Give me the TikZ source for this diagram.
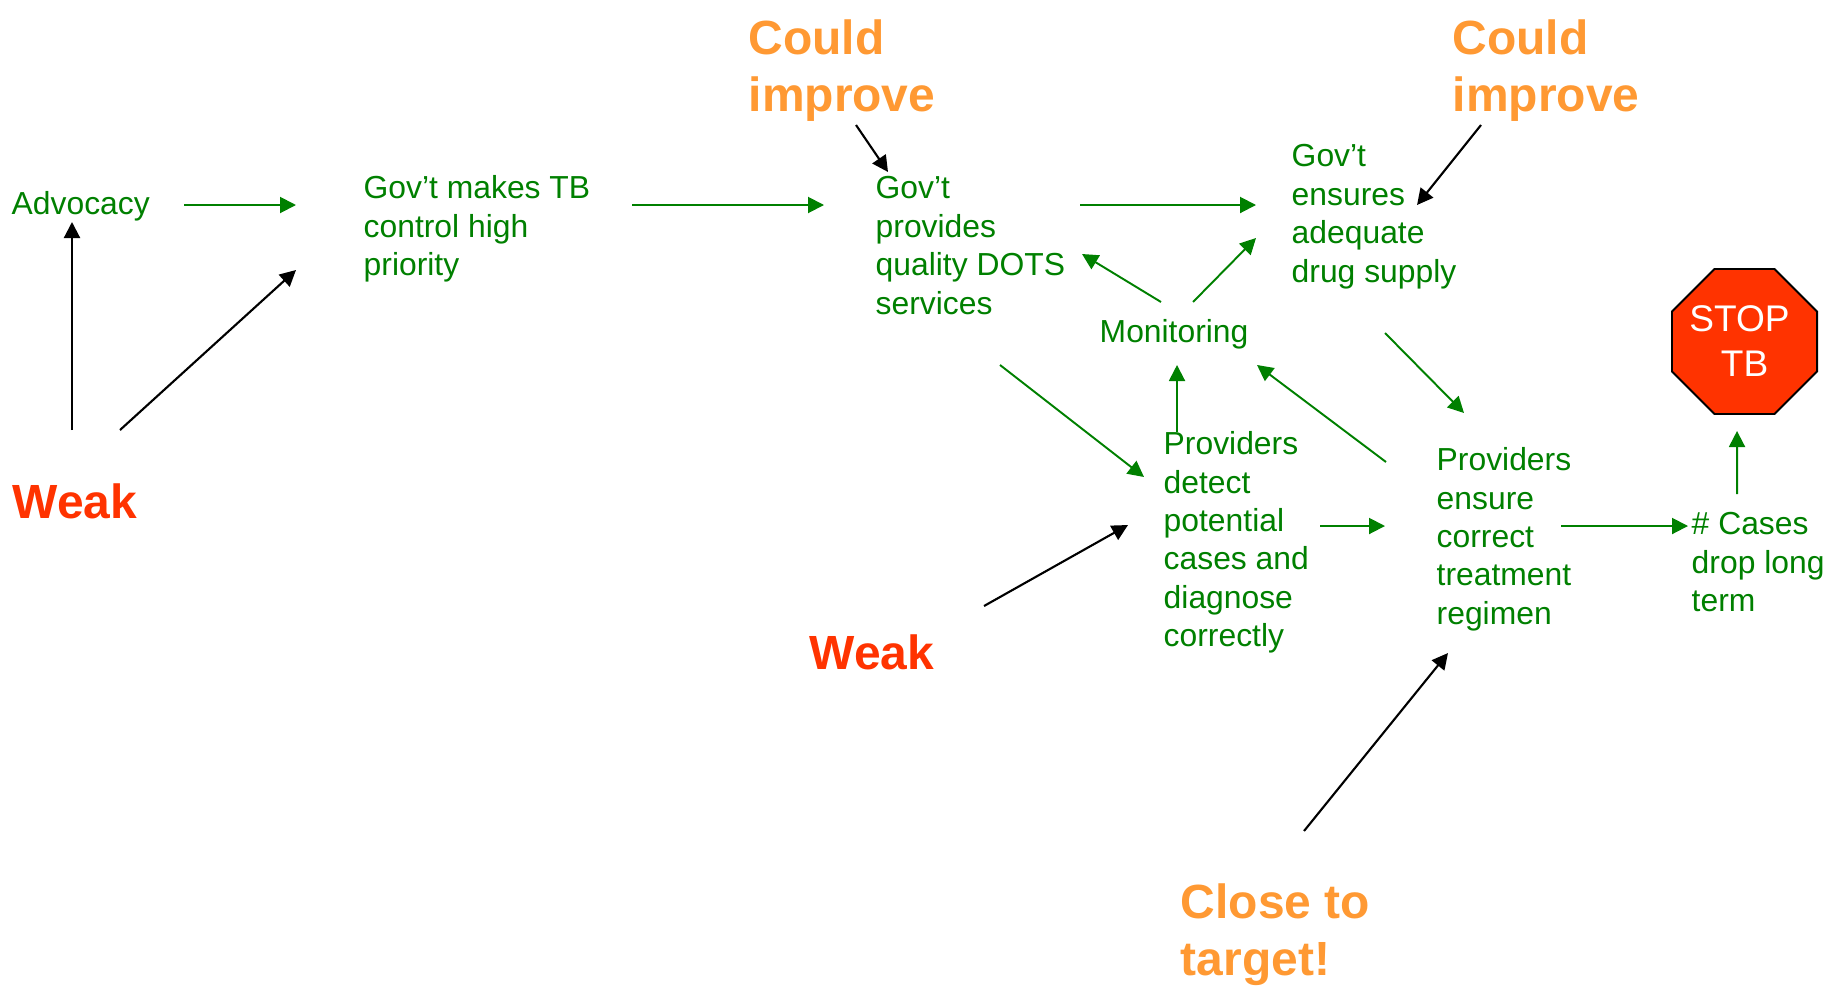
\documentclass[tikz,border=0pt]{standalone}
\usepackage{fontspec}
\setmainfont{Liberation Sans}
\usetikzlibrary{arrows.meta, shapes.geometric}
\definecolor{stepgreen}{HTML}{008000}
\definecolor{weakred}{HTML}{FF3300}
\definecolor{fairorange}{HTML}{FF9933}
\begin{document}
\begin{tikzpicture}[>=Stealth,
                flow arrow/.style={-{Triangle[length=1.6mm, width=1.6mm]}, line width=0.55pt, stepgreen},
                rating arrow/.style={-{Triangle[length=1.6mm, width=1.6mm]}, line width=0.6pt, black},
                step label/.style={anchor=north west, inner sep=0pt, align=left, text=stepgreen,
                    font=\fontsize{9.06}{10.92}\selectfont},
                rating label/.style={anchor=north west, inner sep=0pt, align=left,
                    font=\fontsize{13.65}{16.2}\selectfont\bfseries}
            ]

            \useasboundingbox (0, 0) rectangle (18.37, 9.86);

            \node[step label] (advocacy) at (0.11, 7.95) {Advocacy};
            \node[step label] (priority) at (3.63, 8.11) {Gov’t makes TB\\control high\\priority};
            \node[step label] (dots) at (8.75, 8.10) {Gov’t\\provides\\quality DOTS\\services};
            \node[step label] (supply) at (12.91, 8.42) {Gov’t\\ensures\\adequate\\drug supply};
            \node[step label] (monitoring) at (10.99, 6.67) {Monitoring};
            \node[step label] (detect) at (11.63, 5.55) {Providers\\detect\\potential\\cases and\\diagnose\\correctly};
            \node[step label] (regimen) at (14.36, 5.39) {Providers\\ensure\\correct\\treatment\\regimen};
            \node[step label] (cases) at (16.91, 4.74) {\# Cases\\drop long\\term};
            \node[regular polygon, regular polygon sides=8, minimum size=1.57cm, inner sep=0pt, draw=black,
                line width=0.55pt, fill=weakred, text=white, align=center,
                font=\fontsize{10.55}{12.8}\selectfont] (stop) at (17.445, 6.445)
                {\makebox[0pt]{STOP\kern0.1cm}\\\makebox[0pt]{TB}};

            \node[rating label, text=fairorange] (improve dots) at (7.48, 9.67) {Could\\improve};
            \node[rating label, text=fairorange] (improve supply) at (14.52, 9.67) {Could\\improve};
            \node[rating label, text=weakred] (weak advocacy) at (0.12, 5.03) {Weak};
            \node[rating label, text=weakred] (weak detect) at (8.09, 3.52) {Weak};
            \node[rating label, text=fairorange] (close target) at (11.80, 1.03) {Close to\\target!};

            % the chain of steps
            \draw[flow arrow] ([shift={(1.73, -0.14)}]advocacy.north west) -- ([shift={(-0.67, -0.30)}]priority.north west);
            \draw[flow arrow] ([shift={(2.69, -0.30)}]priority.north west) -- ([shift={(-0.51, -0.29)}]dots.north west);
            \draw[flow arrow] ([shift={(2.05, -0.29)}]dots.north west) -- ([shift={(-0.35, -0.61)}]supply.north west);
            \draw[flow arrow] ([shift={(0.62, 0.17)}]monitoring.north west) -- ([shift={(2.07, -0.78)}]dots.north west);
            \draw[flow arrow] ([shift={(0.94, 0.17)}]monitoring.north west) -- ([shift={(-0.35, -0.94)}]supply.north west);
            \draw[flow arrow] ([shift={(1.25, -1.89)}]dots.north west) -- ([shift={(-0.19, -0.46)}]detect.north west);
            \draw[flow arrow] ([shift={(0.14, -0.01)}]detect.north west) -- ([shift={(0.78, -0.46)}]monitoring.north west);
            \draw[flow arrow] ([shift={(-0.50, -0.15)}]regimen.north west) -- ([shift={(1.58, -0.46)}]monitoring.north west);
            \draw[flow arrow] ([shift={(0.94, -1.89)}]supply.north west) -- ([shift={(0.28, 0.34)}]regimen.north west);
            \draw[flow arrow] ([shift={(1.57, -0.95)}]detect.north west) -- ([shift={(-0.51, -0.79)}]regimen.north west);
            \draw[flow arrow] ([shift={(1.25, -0.79)}]regimen.north west) -- ([shift={(-0.03, -0.14)}]cases.north west);
            \draw[flow arrow] ([shift={(0.46, 0.18)}]cases.north west) -- ([shift={(-0.075, -0.16)}]stop.south);

            % the ratings
            \draw[rating arrow] ([shift={(0.60, 0.53)}]weak advocacy.north west) -- ([shift={(0.61, -0.31)}]advocacy.north west);
            \draw[rating arrow] ([shift={(1.08, 0.53)}]weak advocacy.north west) -- ([shift={(-0.67, -0.95)}]priority.north west);
            \draw[rating arrow] ([shift={(1.08, -1.06)}]improve dots.north west) -- ([shift={(0.13, 0.04)}]dots.north west);
            \draw[rating arrow] ([shift={(0.29, -1.06)}]improve supply.north west) -- ([shift={(1.26, -0.61)}]supply.north west);
            \draw[rating arrow] ([shift={(1.75, 0.28)}]weak detect.north west) -- ([shift={(-0.35, -0.94)}]detect.north west);
            \draw[rating arrow] ([shift={(1.24, 0.52)}]close target.north west) -- ([shift={(0.12, -2.06)}]regimen.north west);
        \end{tikzpicture}
\end{document}
